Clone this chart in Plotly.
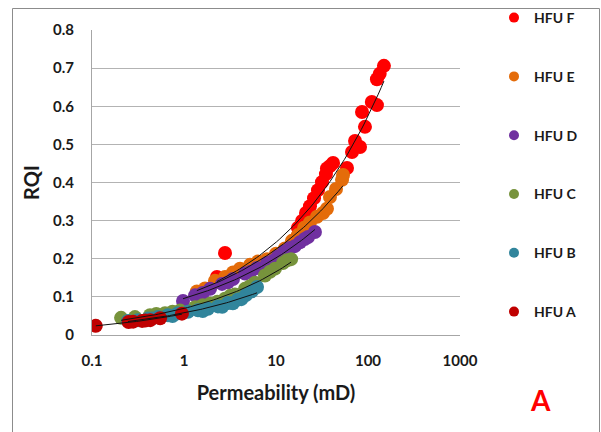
import numpy as np
import plotly.graph_objects as go

# ---- data (k in mD, RQI in microns) ----
names = ["HFU F", "HFU E", "HFU D", "HFU C", "HFU B", "HFU A"]
colors = ["#FF0000", "#E46C0A", "#7030A0", "#77933C", "#31859C", "#C00000"]

f_k = [2.28, 2.79, 17.3, 19.2, 21.2, 23.4, 25.9, 28.6, 31.6, 34.9, 38.6, 35.8, 41.7,
       59.1, 67.0, 72.3, 81.9, 92.7, 86.1, 110, 125, 125, 134, 149]
f_rqi = [0.152, 0.215, 0.281, 0.299, 0.320, 0.338, 0.359, 0.380, 0.401, 0.422, 0.443, 0.437, 0.451,
         0.438, 0.480, 0.509, 0.493, 0.546, 0.585, 0.611, 0.603, 0.671, 0.685, 0.706]

e_k = [1.38, 1.69, 2.17, 2.79, 3.41, 4.06, 5.22, 6.37, 7.98, 10.0, 12.5, 14.9, 17.3,
       20.2, 23.4, 27.9, 32.4, 35.8, 38.6, 44.9, 52.2, 53.5]
e_rqi = [0.114, 0.122, 0.142, 0.152, 0.164, 0.174, 0.184, 0.193, 0.199, 0.213, 0.227, 0.247, 0.262,
         0.281, 0.295, 0.310, 0.320, 0.331, 0.362, 0.383, 0.407, 0.420]

d_k = [0.976, 1.32, 1.92, 2.59, 3.41, 4.60, 6.22, 7.98, 10.5, 14.2, 18.2, 22.3, 26.5,
       1.6, 3.0, 5.3, 9.2, 12.3, 16.0, 20.5]
d_rqi = [0.089, 0.104, 0.121, 0.134, 0.147, 0.161, 0.176, 0.189, 0.206, 0.228, 0.243, 0.257, 0.270,
         0.110, 0.138, 0.166, 0.194, 0.219, 0.233, 0.252]

c_k = [0.207, 0.293, 0.427, 0.622, 0.905, 1.32, 1.92, 2.79, 3.58, 4.60, 5.91, 7.59, 9.75, 11.9, 14.6,
       0.5, 0.75, 1.6, 2.3, 3.2, 5.2, 8.6, 13.2]
c_rqi = [0.045, 0.047, 0.052, 0.057, 0.064, 0.073, 0.082, 0.095, 0.106, 0.121, 0.137, 0.156, 0.174, 0.189, 0.199,
         0.055, 0.061, 0.078, 0.087, 0.103, 0.128, 0.166, 0.196]

b_k = [0.246, 0.316, 0.406, 0.522, 0.670, 0.861, 1.105, 1.42, 1.82, 2.34, 3.01, 3.86, 4.72, 5.48, 6.22,
       0.45, 0.75, 1.6, 2.6, 3.4, 4.2]
b_rqi = [0.037, 0.039, 0.043, 0.047, 0.052, 0.057, 0.061, 0.065, 0.069, 0.075, 0.084, 0.093, 0.105, 0.115, 0.126,
         0.043, 0.050, 0.063, 0.074, 0.083, 0.094]

a_k = [0.11, 0.25, 0.28, 0.35, 0.38, 0.43, 0.55, 0.95]
a_rqi = [0.024, 0.034, 0.035, 0.037, 0.038, 0.039, 0.044, 0.056]

series_k = [f_k, e_k, d_k, c_k, b_k, a_k]
series_rqi = [f_rqi, e_rqi, d_rqi, c_rqi, b_rqi, a_rqi]

# power trendline RQI = a * k^b ; HFU F coefficients,
# the others are fitted to the points above
trend_override = {"HFU F": (0.103, 0.373)}

x_tickvals = [0.1, 1, 10, 100, 1000]
x_ticktext = ["0.1", "1", "10", "100", "1000"]
y_tickvals = [0, 0.1, 0.2, 0.3, 0.4, 0.5, 0.6, 0.7, 0.8]
y_ticktext = ["0", "0.1", "0.2", "0.3", "0.4", "0.5", "0.6", "0.7", "0.8"]

FONT = "Lato"
W, H = 601, 432
ML, MR, MT, MB = 92, 141, 30, 97
PW, PH = W - ML - MR, H - MT - MB


def px2paper_x(px):
    return (px - ML) / PW


def px2paper_y(py):
    return (H - MB - py) / PH


fig = go.Figure()

# data markers
for name, col, k, r in zip(names, colors, series_k, series_rqi):
    fig.add_trace(go.Scatter(x=k, y=r, mode="markers", name=name, showlegend=False,
                             marker=dict(size=14, color=col, line=dict(width=0))))

# power-law trend lines
for name, k, r in zip(names, series_k, series_rqi):
    if name in trend_override:
        a, b = trend_override[name]
    else:
        b, la = np.polyfit(np.log(k), np.log(r), 1)
        a = np.exp(la)
    xs = np.geomspace(min(k), max(k), 60)
    fig.add_trace(go.Scatter(x=xs, y=a * xs ** b, mode="lines", showlegend=False,
                             hoverinfo="skip", line=dict(color="#111111", width=1)))

# legend entries
for name, col in zip(names, colors):
    fig.add_trace(go.Scatter(x=[None], y=[None], mode="markers", name=name, legendgroup=name,
                             marker=dict(size=10, color=col)))

TXT = "#1a1a1a"
fig.update_layout(
    width=W, height=H,
    margin=dict(l=ML, r=MR, t=MT, b=MB, autoexpand=False),
    paper_bgcolor="white", plot_bgcolor="white",
    font=dict(family=FONT, color="#000000"),
    showlegend=True,
    legend=dict(x=px2paper_x(494), y=px2paper_y(2), xanchor="left", yanchor="top",
                traceorder="grouped", tracegroupgap=37.6, maxheight=430,
                font=dict(family=FONT, size=14, color=TXT, weight="bold"),
                bgcolor="rgba(0,0,0,0)"),
    xaxis=dict(type="log", range=[-1, 3], tickvals=x_tickvals, ticktext=x_ticktext,
               showgrid=False, zeroline=False, showline=True, linecolor="#a6a6a6", linewidth=1,
               ticks="", ticklabelstandoff=12,
               tickfont=dict(family=FONT, size=15, weight="bold", color=TXT),
               title=dict(text="Permeability (mD)", standoff=17,
                          font=dict(family=FONT, size=20, weight="bold", color=TXT))),
    yaxis=dict(range=[0, 0.8], tickvals=y_tickvals, ticktext=y_ticktext,
               showgrid=True, gridcolor="#b3b3b3", gridwidth=1, zeroline=False,
               showline=True, linecolor="#a6a6a6", linewidth=1,
               ticks="", ticklabelstandoff=14,
               tickfont=dict(family=FONT, size=15, weight="bold", color=TXT),
               title=dict(text="RQI", standoff=8,
                          font=dict(family=FONT, size=20, weight="bold", color=TXT))),
    shapes=[dict(type="rect", xref="paper", yref="paper",
                 x0=px2paper_x(12.5), x1=px2paper_x(599.5), y0=px2paper_y(445), y1=px2paper_y(8.5),
                 line=dict(color="#8c8c8c", width=1), fillcolor="rgba(0,0,0,0)", layer="above")],
    annotations=[dict(text="A", xref="paper", yref="paper", x=px2paper_x(540), y=px2paper_y(400),
                      xanchor="center", yanchor="middle", showarrow=False,
                      font=dict(family=FONT, size=28, color="#FF0000", weight="bold"))],
)

fig.write_html("out.html", config={"displayModeBar": False},
               post_script="document.body.style.margin='0px';")
